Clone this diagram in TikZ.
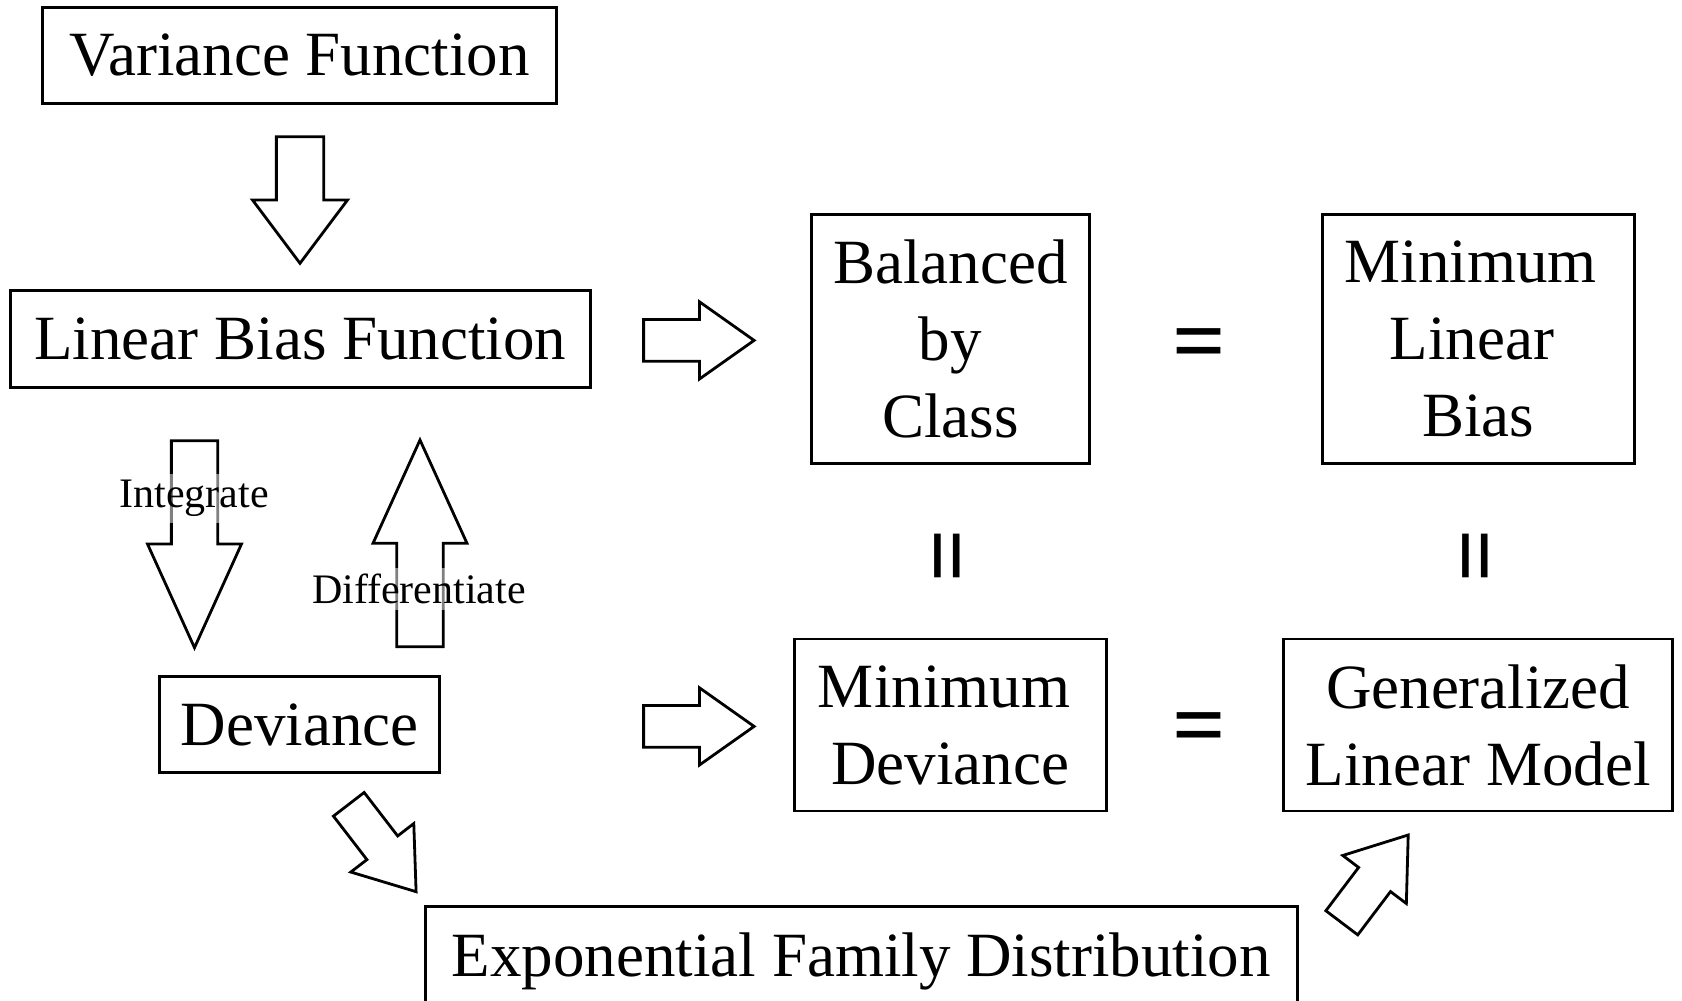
\documentclass[tikz,border=0pt]{standalone}
\usepackage{fontspec}
\setmainfont{Liberation Serif}
\newcommand{\blkarrow}[7]{%
  \begin{scope}[shift={(#1,#2)}, rotate=#3]
    \draw[blk] (0,{-#6/2}) -- (#4,{-#6/2}) -- (#4,{-#7/2}) -- ({#4+#5},0)
      -- (#4,{#7/2}) -- (#4,{#6/2}) -- (0,{#6/2}) -- cycle;
  \end{scope}}
\begin{document}
\begin{tikzpicture}[x=0.5pt,y=-0.5pt,
  box/.style={draw, line width=1.4pt, inner sep=0pt, align=center,
    font=\fontsize{31.5pt}{38.5pt}\selectfont},
  eqs/.style={inner sep=0pt, font=\bfseries\fontsize{47pt}{50pt}\selectfont},
  lbl/.style={fill=white, fill opacity=0.5, text opacity=1, inner sep=3pt,
    font=\fontsize{21pt}{25pt}\selectfont},
  blk/.style={draw, line width=1.4pt, fill=white, line join=miter}]
\useasboundingbox (0,0) rectangle (1682,1001);

% boxes
\node[box, minimum width=257pt, minimum height=48pt] (var) at (299.8,55.2) {Variance Function};
\node[box, minimum width=290pt, minimum height=48.5pt] (lbf) at (300.4,339) {Linear Bias Function};
\node[box, minimum width=140pt, minimum height=48pt] (dev) at (299.8,724.6) {Deviance};
\node[box, minimum width=139pt, minimum height=124.5pt] (bbc) at (950.4,339) {Balanced\\by\\Class};
\node[box, minimum width=156pt, minimum height=124.5pt] (mlb) at (1478.2,339) {Minimum\hspace{7.5pt}\mbox{}\\Linear\hspace{6.4pt}\mbox{}\\Bias};
\node[box, minimum width=156pt, minimum height=86pt] (mdv) at (950.4,725) {Minimum\hspace{6.4pt}\mbox{}\\Deviance};
\node[box, minimum width=194.5pt, minimum height=86pt] (glm) at (1478.2,725) {Generalized\\Linear Model};
\node[box, minimum width=436pt, minimum height=48.5pt, text depth=0pt] (efd) at (861.4,955) {Exponential Family Distribution};

% equals signs
\node[eqs] (eq1) at (1199.5,351) {=};
\node[eqs] (eq2) at (1199.5,735) {=};
\node[eqs, rotate=90] (eq3) at (957,556) {=};
\node[eqs, rotate=90] (eq4) at (1485,556) {=};

% block arrows
\blkarrow{300}{136.7}{-90}{63.3}{63.3}{47.3}{95}
\blkarrow{643.6}{340.4}{0}{55.8}{54.7}{41.8}{77.3}
\blkarrow{643.6}{726.4}{0}{55.8}{54.7}{41.8}{77.3}
\blkarrow{194.5}{440.7}{-90}{103.3}{103.7}{46.3}{94}
\blkarrow{420}{646.7}{90}{103.4}{103.3}{46.6}{94}
\blkarrow{348.8}{804.3}{-52.4}{54.9}{55.4}{38.8}{79.5}
\blkarrow{1341.8}{922.8}{52.9}{54.3}{55.8}{40}{79.7}

% labels
\node[lbl] (int) at (194,498.4) {Integrate};
\node[lbl] (dif) at (419,589) {Differentiate};
\end{tikzpicture}
\end{document}
